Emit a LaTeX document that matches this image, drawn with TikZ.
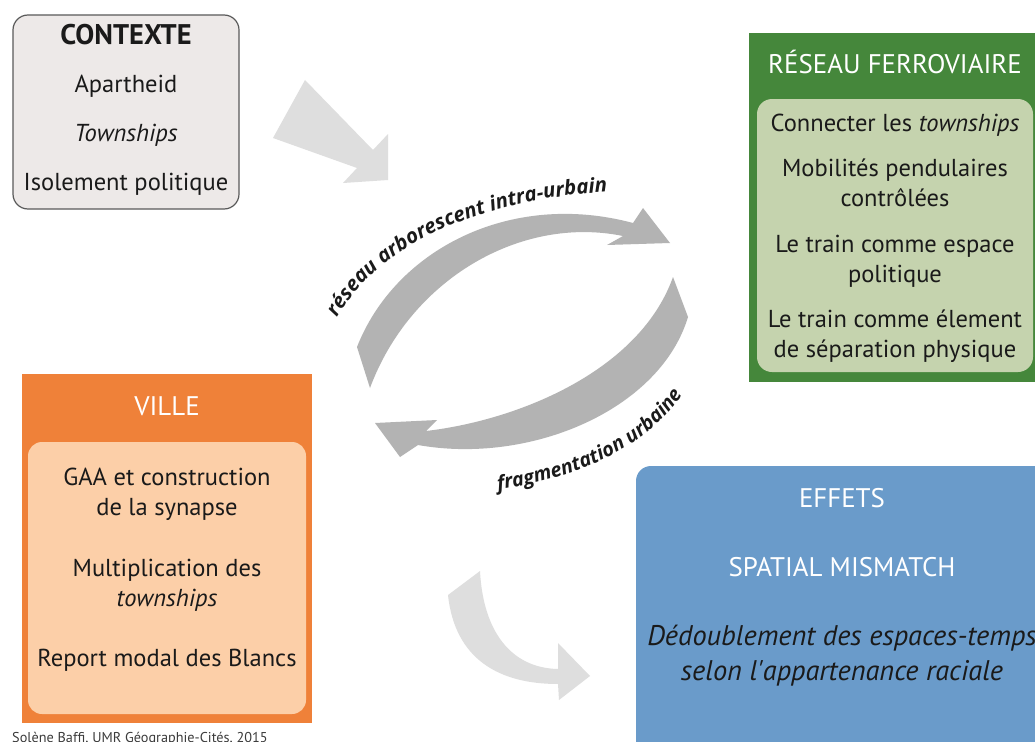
\documentclass[tikz,border=0pt]{standalone}
\usepackage{fontspec}
\setmainfont{PT Sans}
\newfontfamily\labfont{Open Sans}
\usetikzlibrary{decorations.text}
\definecolor{ctxfill}{HTML}{EDE9E8}
\definecolor{ctxline}{HTML}{5A5A5A}
\definecolor{greenout}{HTML}{45873B}
\definecolor{greenin}{HTML}{C5D3AE}
\definecolor{orangeout}{HTML}{EF8139}
\definecolor{orangein}{HTML}{FCCFA8}
\definecolor{blueout}{HTML}{6A9BCA}
\definecolor{arrowdark}{HTML}{B3B3B3}
\definecolor{arrowlight}{HTML}{DEDEDE}
\definecolor{txt}{HTML}{1A1A1A}
\newcommand\bodysize{\fontsize{24.6}{28}\selectfont}
\newcommand\titlesize{\fontsize{27}{30}\selectfont}
\newcommand\labsize{\fontsize{20.5}{24}\selectfont}
\newcommand\labsizeb{\fontsize{19.8}{24}\selectfont}
\tikzset{
  panel/.style={rectangle, inner sep=0pt, outer sep=0pt, anchor=north west},
  line/.style={anchor=base, inner sep=0pt, text=txt, font=\bodysize},
  title/.style={anchor=base, inner sep=0pt, text=white, font=\titlesize},
}
\begin{document}
\begin{tikzpicture}[x=1bp,y=-1bp]
\useasboundingbox (0,0) rectangle (1035,742);
\fill[white] (0,0) rectangle (1035,742);

% ---------- arrows ----------
% light arrow from CONTEXTE
\fill[arrowlight] (305,80) -- (373,150) -- (388,134) -- (388,180) -- (343,183)
  -- (357,168) -- (273,138) -- cycle;
% big arrow 1 (up, to the right)
\fill[arrowdark] (357,347) .. controls (395,250) and (510,190) .. (633,223)
  -- (643,208) -- (670,243) -- (607,245) -- (623,236)
  .. controls (520,215) and (410,280) .. (370,388) -- cycle;
% big arrow 2 (down, to the left)
\fill[arrowdark] (688,317) .. controls (660,410) and (530,465) .. (418,445)
  -- (400,457) -- (375,423) -- (437,420) -- (426,431)
  .. controls (520,420) and (640,370) .. (673,277) -- cycle;
% light arrow to EFFETS
\fill[arrowlight] (448,595) .. controls (455,660) and (500,684) .. (558,684)
  -- (559,700) -- (590,676) -- (558,643) -- (558,669)
  .. controls (510,668) and (483,630) .. (480,571) -- cycle;

% arrow labels
\path[decorate, decoration={text along path, text color=txt,
  text={|\labfont\labsize\bfseries\itshape|réseau arborescent intra-urbain}}]
  (337,318) .. controls (375,250) and (470,200) .. (607,192) -- (680,196);
\path[decorate, decoration={text along path, text color=txt,
  text={|\labfont\labsizeb\bfseries\itshape|fragmentation urbaine}}]
  (498,490) .. controls (580,478) and (650,445) .. (684,392) -- (705,355);

% ---------- CONTEXTE ----------
\node[panel, draw=ctxline, line width=1.2bp, fill=ctxfill, rounded corners=15bp,
  minimum width=226bp, minimum height=194bp] (ctx) at (13,15) {};
\node[line, font=\fontsize{28.5}{32}\selectfont\bfseries] (ctx1) at (126,45) {CONTEXTE};
\node[line] (ctx2) at (126,93) {Apartheid};
\node[line] (ctx3) at (126,141) {\itshape Townships};
\node[line] (ctx4) at (126,190) {Isolement politique};

% ---------- RÉSEAU FERROVIAIRE ----------
\node[panel, fill=greenout, minimum width=295bp, minimum height=349bp] (fer) at (749,33) {};
\node[panel, fill=greenin, rounded corners=15bp, minimum width=276bp, minimum height=273bp] (ferin) at (757,99) {};
\node[title] (fer0) at (895,74) {RÉSEAU FERROVIAIRE};
\node[line] (fer1) at (895,131) {Connecter les \textit{townships}};
\node[line] (fer2) at (895,176) {Mobilités pendulaires};
\node[line] (fer3) at (895,206) {contrôlées};
\node[line] (fer4) at (895,252) {Le train comme espace};
\node[line] (fer5) at (895,282) {politique};
\node[line] (fer6) at (895,327) {Le train comme élement};
\node[line] (fer7) at (895,357) {de séparation physique};

% ---------- VILLE ----------
\node[panel, fill=orangeout, minimum width=290bp, minimum height=349bp] (vil) at (22,374) {};
\node[panel, fill=orangein, rounded corners=14bp, minimum width=278bp, minimum height=272bp] (vilin) at (28,442) {};
\node[title] (vil0) at (167,415) {VILLE};
\node[line] (vil1) at (167,485) {GAA et construction};
\node[line] (vil2) at (167,515) {de la synapse};
\node[line] (vil3) at (167,576) {Multiplication des};
\node[line] (vil4) at (167,606) {\itshape townships};
\node[line] (vil5) at (167,666) {Report modal des Blancs};

% ---------- EFFETS ----------
\node[panel, fill=blueout, rounded corners=15bp, minimum width=420bp, minimum height=300bp] (eff) at (636,466) {};
\node[title] (eff0) at (842,507) {EFFETS};
\node[title] (eff1) at (842,576) {SPATIAL MISMATCH};
\node[line, font=\fontsize{28.5}{32}\selectfont\itshape] (eff2) at (842,645) {Dédoublement des espaces-temps};
\node[line, font=\fontsize{28.5}{32}\selectfont\itshape] (eff3) at (842,680) {selon l\textquotesingle appartenance raciale};

% credit
\node[anchor=base west, inner sep=0pt, text=txt!85, font=\fontsize{14.3}{16}\selectfont] (cred) at (12,742) {Solène Baffi, UMR Géographie-Cités, 2015};
\end{tikzpicture}
\end{document}
